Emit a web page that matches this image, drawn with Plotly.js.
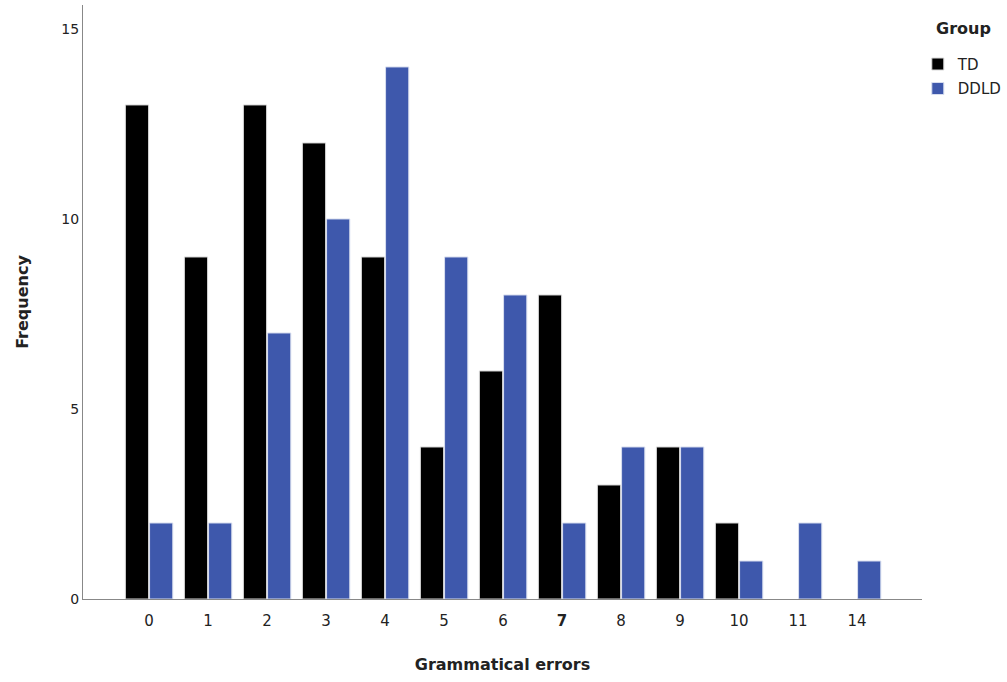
<!DOCTYPE html>
<html><head><meta charset="utf-8">
<script src="https://cdn.plot.ly/plotly-3.0.1.min.js"></script>
<style>html,body{margin:0;padding:0;background:#fff;}#chart{width:1007px;height:682px;}</style>
</head><body><div id="chart"></div>
<script>
const categories = ['0','1','2','3','4','5','6','7','8','9','10','11','14'];
const tickLabels = ['0','1','2','3','4','5','6','<b>7</b>','8','9','10','11','14'];
const tdValues   = [13, 9, 13, 12, 9, 4, 6, 8, 3, 4, 2, 0, 0];
const ddldValues = [2, 2, 7, 10, 14, 9, 8, 2, 4, 4, 1, 2, 1];
const seriesNames = ['TD', 'DDLD'];
const legendTitle = 'Group';

const font = 'DejaVu Sans, Liberation Sans, sans-serif';
const edge = vals => vals.map(v => v > 0 ? 1 : 0);
const traces = [
  {type:'bar', name:seriesNames[0], legendgroup:'a', x:categories, y:tdValues,
   marker:{color:'#000000', line:{color:'#d8d8d8', width:edge(tdValues)}}},
  {type:'bar', name:seriesNames[1], legendgroup:'b', x:categories, y:ddldValues,
   marker:{color:'#3e58ac', line:{color:'#d8deef', width:edge(ddldValues)}}}
];
const layout = {
  width:1007, height:682,
  margin:{l:83, r:85, t:5, b:83, autoexpand:false},
  paper_bgcolor:'#fff', plot_bgcolor:'#fff',
  barmode:'group', bargap:0.18, bargroupgap:0.04,
  font:{family:font, size:14, color:'#222'},
  showlegend:true,
  legend:{x:0.995, y:0.928, xanchor:'left', yanchor:'top', traceorder:'grouped',
          font:{size:15, color:'#222'}, tracegroupgap:2, itemwidth:30},
  annotations:[{text:'<b>'+legendTitle+'</b>', xref:'paper', yref:'paper', x:1.014, y:0.961,
                xanchor:'left', yanchor:'middle', showarrow:false, font:{size:16, color:'#222'}}],
  xaxis:{type:'category', range:[-1.12, 13.1], tickvals:categories, ticktext:tickLabels,
         showline:true, linecolor:'#888', linewidth:1, ticks:'outside', ticklen:8,
         tickcolor:'rgba(0,0,0,0)', showgrid:false, zeroline:false,
         tickfont:{size:15, color:'#222'},
         title:{text:'<b>Grammatical errors</b>', font:{size:16, color:'#222'}, standoff:29}},
  yaxis:{range:[0, 15.63], tickvals:[0,5,10,15], showline:true, linecolor:'#888', linewidth:1,
         ticks:'', showgrid:false, zeroline:false, tickfont:{size:14, color:'#222'},
         title:{text:'<b>Frequency</b>', font:{size:16, color:'#222'}, standoff:28}}
};
Plotly.newPlot('chart', traces, layout, {displayModeBar:false, staticPlot:true});
</script></body></html>
